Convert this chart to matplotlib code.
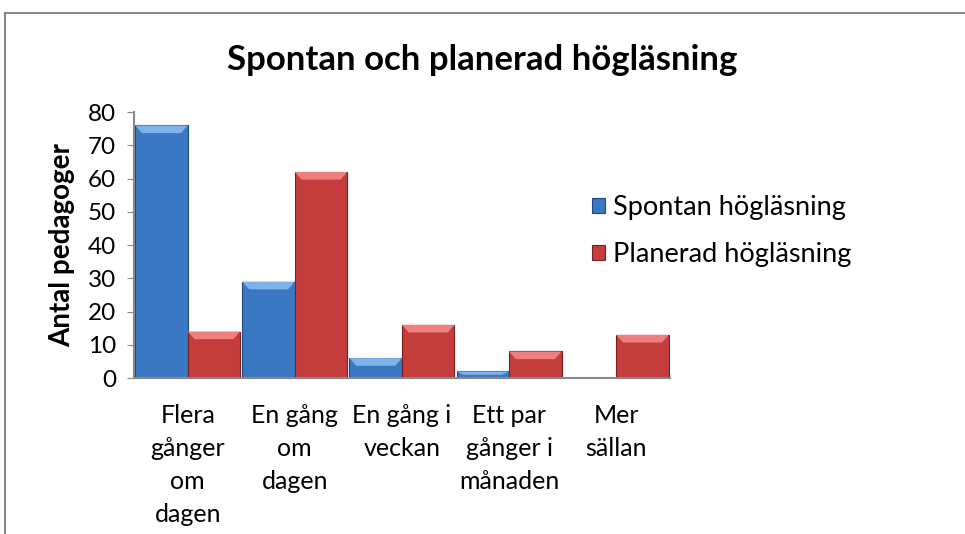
import numpy as np
import matplotlib.pyplot as plt
from matplotlib.lines import Line2D
from matplotlib.patches import Polygon

# Data
categories = ['Flera\ngånger\nom\ndagen', 'En gång\nom\ndagen', 'En gång i\nveckan',
              'Ett par\ngånger i\nmånaden', 'Mer\nsällan']
spontan = [76, 29, 6, 2, 0]
planerad = [14, 62, 16, 8, 13]
series_names = ['Spontan högläsning', 'Planerad högläsning']

plt.rcParams['font.family'] = ['Lato', 'DejaVu Sans']

blue = '#3b78c3'
red = '#c43c3c'

fig = plt.figure(figsize=(9.65, 5.34), dpi=100)
ax = fig.add_axes([0.139, 0.292, 0.555, 0.498])

x = np.arange(len(categories))
w = 0.49
b1 = ax.bar(x - w / 2, spontan, w, color=blue, edgecolor='#1f4a80', linewidth=0.8,
            label=series_names[0])
b2 = ax.bar(x + w / 2, planerad, w, color=red, edgecolor='#7a1f1f', linewidth=0.8,
            label=series_names[1])

# light bevel on the top of each bar
for bars, light in [(b1, '#80b2ec'), (b2, '#ef7f7f')]:
    for p in bars:
        h = p.get_height()
        if h <= 0:
            continue
        x0, x1 = p.get_x(), p.get_x() + p.get_width()
        bh = min(2.3, h / 2)
        dx = p.get_width() * 0.13
        ax.add_patch(Polygon([[x0, h], [x1, h], [x1 - dx, h - bh], [x0 + dx, h - bh]],
                             closed=True, facecolor=light, edgecolor='none', zorder=3))

ax.set_xlim(-0.5, len(categories) - 0.5)
ax.set_ylim(0, 80)
ax.set_yticks(range(0, 81, 10))
ax.set_xticks(x)
ax.set_xticklabels(categories, fontsize=18, linespacing=1.52, multialignment='center')
ax.tick_params(axis='y', labelsize=17.5, length=5, color='#888888', direction='out', pad=8)
ax.tick_params(axis='x', length=0, pad=19)
for s in ['top', 'right']:
    ax.spines[s].set_visible(False)
for s in ['left', 'bottom']:
    ax.spines[s].set_color('#888888')
    ax.spines[s].set_linewidth(1.5)

ax.set_ylabel('Antal pedagoger', fontsize=20, fontweight='bold', labelpad=9)

fig.suptitle('Spontan och planerad högläsning', fontsize=25, fontweight='bold',
             x=0.5, y=0.888, va='center')

ax.legend(loc='upper left', bbox_to_anchor=(0.588, 0.68), bbox_transform=fig.transFigure,
          frameon=False, fontsize=19.5, handlelength=0.5, handleheight=0.5,
          handletextpad=0.3, labelspacing=0.8)

# chart frame
fig.add_artist(Line2D([0.005, 1.0], [0.976, 0.976], color='#888888', linewidth=1.5))
fig.add_artist(Line2D([0.005, 0.005], [0.0, 0.976], color='#888888', linewidth=1.5))

plt.savefig('out.png', dpi=100)
